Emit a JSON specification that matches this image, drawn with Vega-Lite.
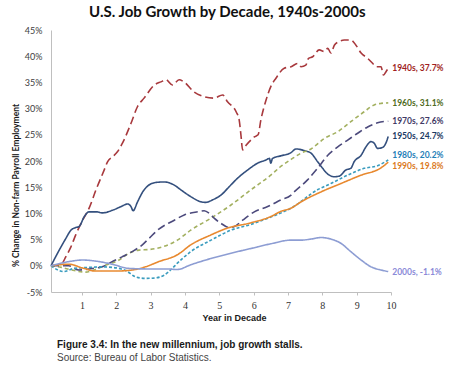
{
  "$schema": "https://vega.github.io/schema/vega-lite/v6.json",
  "background": "white",
  "padding": {"left": 11, "top": 5, "right": 0, "bottom": 0},
  "config": {"view": {"stroke": null}, "font": "Lato", "concat": {"spacing": 0}, "axis": {"labelOverlap": false, "labelFlush": false}},
  "title": {"text": "U.S. Job Growth by Decade, 1940s-2000s", "font": "Lato", "fontSize": 15, "fontWeight": "bold", "color": "#111111", "anchor": "middle", "offset": 6},
  "datasets": {
    "series": [
      {"d":"1940s","t":0.1,"v":0},{"d":"1940s","t":0.4,"v":0.3},{"d":"1940s","t":0.53,"v":1.7},{"d":"1940s","t":0.68,"v":3.6},{"d":"1940s","t":0.82,"v":5.9},{"d":"1940s","t":1.02,"v":8.7},{"d":"1940s","t":1.21,"v":11},{"d":"1940s","t":1.41,"v":14.5},{"d":"1940s","t":1.65,"v":18.3},{"d":"1940s","t":1.75,"v":19.9},{"d":"1940s","t":1.89,"v":20.8},{"d":"1940s","t":2.04,"v":21.8},{"d":"1940s","t":2.18,"v":23.4},{"d":"1940s","t":2.43,"v":27.2},{"d":"1940s","t":2.62,"v":30.4},{"d":"1940s","t":2.81,"v":32},{"d":"1940s","t":3.11,"v":34.5},{"d":"1940s","t":3.3,"v":35.1},{"d":"1940s","t":3.45,"v":35.5},{"d":"1940s","t":3.64,"v":34.5},{"d":"1940s","t":3.83,"v":35.5},{"d":"1940s","t":3.97,"v":35.1},{"d":"1940s","t":4.26,"v":33.2},{"d":"1940s","t":4.55,"v":32.3},{"d":"1940s","t":4.84,"v":32},{"d":"1940s","t":5.1,"v":32.6},{"d":"1940s","t":5.24,"v":31.3},{"d":"1940s","t":5.49,"v":29.4},{"d":"1940s","t":5.58,"v":27.8},{"d":"1940s","t":5.63,"v":25},{"d":"1940s","t":5.68,"v":22.1},{"d":"1940s","t":5.78,"v":23},{"d":"1940s","t":5.92,"v":24},{"d":"1940s","t":6.02,"v":24.6},{"d":"1940s","t":6.13,"v":25},{"d":"1940s","t":6.21,"v":27.8},{"d":"1940s","t":6.36,"v":31.6},{"d":"1940s","t":6.5,"v":34.2},{"d":"1940s","t":6.65,"v":35.8},{"d":"1940s","t":6.89,"v":37.7},{"d":"1940s","t":7.09,"v":38},{"d":"1940s","t":7.28,"v":38.6},{"d":"1940s","t":7.38,"v":38},{"d":"1940s","t":7.52,"v":38.3},{"d":"1940s","t":7.6,"v":39.6},{"d":"1940s","t":7.72,"v":39.9},{"d":"1940s","t":7.91,"v":41.2},{"d":"1940s","t":8.06,"v":40.9},{"d":"1940s","t":8.16,"v":41.5},{"d":"1940s","t":8.25,"v":40.6},{"d":"1940s","t":8.35,"v":42.1},{"d":"1940s","t":8.49,"v":42.8},{"d":"1940s","t":8.64,"v":43.1},{"d":"1940s","t":8.83,"v":43.1},{"d":"1940s","t":8.98,"v":42.1},{"d":"1940s","t":9.13,"v":40.6},{"d":"1940s","t":9.32,"v":39.6},{"d":"1940s","t":9.47,"v":38.6},{"d":"1940s","t":9.56,"v":38},{"d":"1940s","t":9.71,"v":38},{"d":"1940s","t":9.78,"v":36.4},{"d":"1940s","t":9.85,"v":37},{"d":"1940s","t":9.92,"v":37.7},
      {"d":"1950s","t":0.1,"v":0},{"d":"1950s","t":0.34,"v":3},{"d":"1950s","t":0.53,"v":5.2},{"d":"1950s","t":0.68,"v":6.8},{"d":"1950s","t":0.82,"v":7.3},{"d":"1950s","t":0.92,"v":7.5},{"d":"1950s","t":1.07,"v":9.4},{"d":"1950s","t":1.21,"v":10.3},{"d":"1950s","t":1.41,"v":10.3},{"d":"1950s","t":1.6,"v":10.1},{"d":"1950s","t":1.89,"v":10.6},{"d":"1950s","t":2.14,"v":11.3},{"d":"1950s","t":2.33,"v":11.8},{"d":"1950s","t":2.43,"v":11.3},{"d":"1950s","t":2.49,"v":10.5},{"d":"1950s","t":2.62,"v":12.2},{"d":"1950s","t":2.77,"v":14.1},{"d":"1950s","t":2.91,"v":15.2},{"d":"1950s","t":3.15,"v":15.9},{"d":"1950s","t":3.4,"v":16},{"d":"1950s","t":3.69,"v":15.4},{"d":"1950s","t":3.88,"v":14.5},{"d":"1950s","t":4.17,"v":13.2},{"d":"1950s","t":4.47,"v":12.2},{"d":"1950s","t":4.61,"v":12.1},{"d":"1950s","t":4.81,"v":12.6},{"d":"1950s","t":5.05,"v":13.5},{"d":"1950s","t":5.29,"v":15.1},{"d":"1950s","t":5.53,"v":16.7},{"d":"1950s","t":5.83,"v":18.3},{"d":"1950s","t":6.12,"v":19.6},{"d":"1950s","t":6.36,"v":20.2},{"d":"1950s","t":6.46,"v":20.5},{"d":"1950s","t":6.5,"v":19.6},{"d":"1950s","t":6.55,"v":20.5},{"d":"1950s","t":6.8,"v":21},{"d":"1950s","t":7.09,"v":21.6},{"d":"1950s","t":7.23,"v":22.3},{"d":"1950s","t":7.47,"v":22},{"d":"1950s","t":7.67,"v":21.5},{"d":"1950s","t":7.86,"v":19.9},{"d":"1950s","t":8.01,"v":18.6},{"d":"1950s","t":8.16,"v":17.5},{"d":"1950s","t":8.35,"v":17},{"d":"1950s","t":8.49,"v":17.1},{"d":"1950s","t":8.69,"v":18.3},{"d":"1950s","t":8.83,"v":18.6},{"d":"1950s","t":8.93,"v":19.9},{"d":"1950s","t":9.13,"v":21.1},{"d":"1950s","t":9.27,"v":22.7},{"d":"1950s","t":9.42,"v":23.7},{"d":"1950s","t":9.51,"v":23.4},{"d":"1950s","t":9.61,"v":22.4},{"d":"1950s","t":9.76,"v":22.6},{"d":"1950s","t":9.85,"v":23.4},{"d":"1950s","t":9.92,"v":24.7},
      {"d":"1960s","t":0.1,"v":0},{"d":"1960s","t":0.4,"v":-0.3},{"d":"1960s","t":0.7,"v":-0.8},{"d":"1960s","t":1.11,"v":-1.2},{"d":"1960s","t":1.35,"v":-0.8},{"d":"1960s","t":1.64,"v":0},{"d":"1960s","t":2.08,"v":1.1},{"d":"1960s","t":2.37,"v":2.4},{"d":"1960s","t":2.66,"v":3},{"d":"1960s","t":2.95,"v":3.1},{"d":"1960s","t":3.34,"v":3.6},{"d":"1960s","t":3.78,"v":4.9},{"d":"1960s","t":4.17,"v":6.8},{"d":"1960s","t":4.76,"v":9.1},{"d":"1960s","t":5.34,"v":11.6},{"d":"1960s","t":5.92,"v":14.5},{"d":"1960s","t":6.5,"v":17.3},{"d":"1960s","t":6.8,"v":19},{"d":"1960s","t":7.09,"v":20.3},{"d":"1960s","t":7.38,"v":21.5},{"d":"1960s","t":7.67,"v":22.3},{"d":"1960s","t":8.06,"v":24.3},{"d":"1960s","t":8.45,"v":25.6},{"d":"1960s","t":8.83,"v":27.5},{"d":"1960s","t":9.22,"v":29.4},{"d":"1960s","t":9.51,"v":30.7},{"d":"1960s","t":9.71,"v":31},{"d":"1960s","t":9.92,"v":31.1},
      {"d":"1970s","t":0.1,"v":0},{"d":"1970s","t":0.62,"v":0},{"d":"1970s","t":0.91,"v":-0.8},{"d":"1970s","t":1.3,"v":-0.5},{"d":"1970s","t":1.59,"v":-0.2},{"d":"1970s","t":1.88,"v":0.8},{"d":"1970s","t":2.17,"v":1.7},{"d":"1970s","t":2.46,"v":2.7},{"d":"1970s","t":2.76,"v":4},{"d":"1970s","t":2.95,"v":5.2},{"d":"1970s","t":3.24,"v":7},{"d":"1970s","t":3.69,"v":8.7},{"d":"1970s","t":3.98,"v":9.7},{"d":"1970s","t":4.37,"v":10.3},{"d":"1970s","t":4.56,"v":10.5},{"d":"1970s","t":4.71,"v":10},{"d":"1970s","t":4.85,"v":9.1},{"d":"1970s","t":5.05,"v":8.1},{"d":"1970s","t":5.29,"v":7.3},{"d":"1970s","t":5.44,"v":7.5},{"d":"1970s","t":5.68,"v":8.7},{"d":"1970s","t":6.02,"v":10.3},{"d":"1970s","t":6.41,"v":11.3},{"d":"1970s","t":6.8,"v":12.6},{"d":"1970s","t":7.09,"v":13.5},{"d":"1970s","t":7.18,"v":14.1},{"d":"1970s","t":7.57,"v":16.4},{"d":"1970s","t":7.86,"v":18.6},{"d":"1970s","t":8.16,"v":21.1},{"d":"1970s","t":8.45,"v":22.7},{"d":"1970s","t":8.74,"v":24},{"d":"1970s","t":9.03,"v":25.3},{"d":"1970s","t":9.32,"v":26.5},{"d":"1970s","t":9.61,"v":27.3},{"d":"1970s","t":9.92,"v":27.6},
      {"d":"1980s","t":0.1,"v":0},{"d":"1980s","t":0.47,"v":-1.1},{"d":"1980s","t":0.77,"v":-0.5},{"d":"1980s","t":1.2,"v":-0.3},{"d":"1980s","t":1.6,"v":-0.2},{"d":"1980s","t":2.0,"v":-0.4},{"d":"1980s","t":2.3,"v":-1},{"d":"1980s","t":2.56,"v":-2.1},{"d":"1980s","t":2.85,"v":-2.4},{"d":"1980s","t":3.15,"v":-2.3},{"d":"1980s","t":3.39,"v":-1.8},{"d":"1980s","t":3.63,"v":-0.5},{"d":"1980s","t":3.78,"v":0.5},{"d":"1980s","t":4.17,"v":2.7},{"d":"1980s","t":4.76,"v":4.9},{"d":"1980s","t":5.34,"v":6.8},{"d":"1980s","t":5.92,"v":7.9},{"d":"1980s","t":6.5,"v":9.3},{"d":"1980s","t":7.09,"v":11},{"d":"1980s","t":7.86,"v":14.5},{"d":"1980s","t":8.25,"v":15.7},{"d":"1980s","t":8.74,"v":17.3},{"d":"1980s","t":9.22,"v":18.6},{"d":"1980s","t":9.61,"v":19.1},{"d":"1980s","t":9.92,"v":20.2},
      {"d":"1990s","t":0.1,"v":0},{"d":"1990s","t":0.62,"v":0.3},{"d":"1990s","t":1.01,"v":-0.4},{"d":"1990s","t":1.4,"v":-1},{"d":"1990s","t":1.98,"v":-1},{"d":"1990s","t":2.46,"v":-0.8},{"d":"1990s","t":2.85,"v":-0.2},{"d":"1990s","t":3.24,"v":0.8},{"d":"1990s","t":3.78,"v":2.1},{"d":"1990s","t":4.17,"v":4},{"d":"1990s","t":4.76,"v":5.9},{"d":"1990s","t":5.24,"v":7.2},{"d":"1990s","t":5.92,"v":8.2},{"d":"1990s","t":6.5,"v":9.4},{"d":"1990s","t":6.8,"v":10.4},{"d":"1990s","t":7.09,"v":11},{"d":"1990s","t":7.38,"v":12.2},{"d":"1990s","t":7.96,"v":14.1},{"d":"1990s","t":8.54,"v":15.7},{"d":"1990s","t":9.13,"v":17.3},{"d":"1990s","t":9.71,"v":18.7},{"d":"1990s","t":9.92,"v":19.8},
      {"d":"2000s","t":0.1,"v":0},{"d":"2000s","t":0.62,"v":0.8},{"d":"2000s","t":1.01,"v":1.1},{"d":"2000s","t":1.4,"v":0.9},{"d":"2000s","t":1.88,"v":0.3},{"d":"2000s","t":2.37,"v":-0.5},{"d":"2000s","t":2.95,"v":-0.6},{"d":"2000s","t":3.44,"v":-0.6},{"d":"2000s","t":3.78,"v":-0.7},{"d":"2000s","t":4.17,"v":0.2},{"d":"2000s","t":4.76,"v":1.4},{"d":"2000s","t":5.34,"v":2.4},{"d":"2000s","t":5.92,"v":3.3},{"d":"2000s","t":6.5,"v":4.2},{"d":"2000s","t":7.09,"v":4.9},{"d":"2000s","t":7.38,"v":4.9},{"d":"2000s","t":7.67,"v":5.1},{"d":"2000s","t":7.96,"v":5.4},{"d":"2000s","t":8.25,"v":5.1},{"d":"2000s","t":8.54,"v":4.3},{"d":"2000s","t":8.83,"v":2.7},{"d":"2000s","t":9.13,"v":1.1},{"d":"2000s","t":9.42,"v":-0.2},{"d":"2000s","t":9.71,"v":-0.8},{"d":"2000s","t":9.92,"v":-1.1}
    ],
    "ends": [
      {"d":"1940s","t":9.92,"v":37.7,"label":"1940s, 37.7%"},
      {"d":"1950s","t":9.92,"v":24.7,"label":"1950s, 24.7%"},
      {"d":"1960s","t":9.92,"v":31.1,"label":"1960s, 31.1%"},
      {"d":"1970s","t":9.92,"v":27.6,"label":"1970s, 27.6%"},
      {"d":"1980s","t":9.92,"v":20.2,"label":"1980s, 20.2%"},
      {"d":"1990s","t":9.92,"v":19.8,"label":"1990s, 19.8%"},
      {"d":"2000s","t":9.92,"v":-1.1,"label":"2000s, -1.1%"}
    ]
  },
  "vconcat": [
    {
      "width": 340,
      "height": 262,
      "title": {"text": "Figure 3.4: In the new millennium, job growth stalls.", "subtitle": "Source: Bureau of Labor Statistics.", "orient": "bottom", "anchor": "start", "font": "Liberation Sans", "fontSize": 10, "fontWeight": "bold", "color": "#1a1a1a", "subtitleFont": "Liberation Sans", "subtitleFontSize": 10, "subtitleColor": "#444444", "subtitlePadding": 3, "offset": 18, "dx": 46},
      "resolve": {"scale": {"color": "independent"}, "axis": {"x": "independent", "y": "independent"}},
      "layer": [
        {
          "data": {"name": "series"},
          "mark": {"type": "line", "strokeWidth": 1.6, "interpolate": "monotone"},
          "encoding": {
            "x": {"field": "t", "type": "quantitative", "scale": {"domain": [0.1, 10], "nice": false, "zero": false},
                  "axis": {"values": [1,2,3,4,5,6,7,8,9,10], "labelOverlap": false, "labelFlush": false, "grid": false, "title": "Year in Decade", "titleFont": "Liberation Sans", "titleFontSize": 9, "titleFontWeight": "bold", "titleColor": "#1a1a1a", "titlePadding": 3, "titleX": 183,
                           "labelFont": "Liberation Serif", "labelFontSize": 10, "labelColor": "#333333", "labelPadding": 5, "tickSize": 3, "tickColor": "#BFBFBF", "domainColor": "#BFBFBF"}},
            "y": {"field": "v", "type": "quantitative", "scale": {"domain": [-5, 45], "nice": false},
                  "axis": {"values": [-5,0,5,10,15,20,25,30,35,40,45], "labelOverlap": false, "labelFlush": false, "labelExpr": "datum.value + '%'", "grid": false, "ticks": false, "domainColor": "#BFBFBF", "labelFont": "Lato", "labelFontSize": 9, "labelColor": "#404040", "labelPadding": 9,
                           "title": "% Change in Non-farm Payroll Employment", "titleFont": "Lato", "titleFontSize": 8.5, "titleFontWeight": "bold", "titleColor": "#1a1a1a", "titleY": 155, "titleX": -31}},
            "color": {"field": "d", "type": "nominal", "legend": null,
                      "scale": {"domain": ["1940s","1950s","1960s","1970s","1980s","1990s","2000s"], "range": ["#A8393D","#34507E","#A3B060","#4C4A7C","#3A9CBE","#E8892F","#8D9DD3"]}},
            "strokeDash": {"field": "d", "type": "nominal", "legend": null,
                      "scale": {"domain": ["1940s","1950s","1960s","1970s","1980s","1990s","2000s"], "range": [[8,4],[1,0],[4,3],[8,4],[3,2],[1,0],[1,0]]}}
          }
        },
        {
          "data": {"name": "ends"},
          "transform": [{"filter": "datum.d != '1980s' && datum.d != '1990s'"}],
          "mark": {"type": "text", "align": "left", "baseline": "middle", "dx": 4, "font": "Lato", "fontSize": 8.5, "fontWeight": "bold"},
          "encoding": {
            "x": {"field": "t", "type": "quantitative", "axis": null},
            "y": {"field": "v", "type": "quantitative", "axis": null},
            "text": {"field": "label"},
            "color": {"field": "d", "type": "nominal", "legend": null,
                      "scale": {"domain": ["1940s","1950s","1960s","1970s","1980s","1990s","2000s"], "range": ["#A01E22","#1B3A63","#4F6B22","#423A66","#1F80B8","#DB7A1E","#8A8AD8"]}}
          }
        },
        {
          "data": {"name": "ends"},
          "transform": [{"filter": "datum.d == '1980s'"}],
          "mark": {"type": "text", "align": "left", "baseline": "middle", "dx": 4, "dy": -5, "font": "Lato", "fontSize": 8.5, "fontWeight": "bold", "color": "#1F80B8"},
          "encoding": {
            "x": {"field": "t", "type": "quantitative", "axis": null},
            "y": {"field": "v", "type": "quantitative", "axis": null},
            "text": {"field": "label"}
          }
        },
        {
          "data": {"name": "ends"},
          "transform": [{"filter": "datum.d == '1990s'"}],
          "mark": {"type": "text", "align": "left", "baseline": "middle", "dx": 4, "dy": 4, "font": "Lato", "fontSize": 8.5, "fontWeight": "bold", "color": "#DB7A1E"},
          "encoding": {
            "x": {"field": "t", "type": "quantitative", "axis": null},
            "y": {"field": "v", "type": "quantitative", "axis": null},
            "text": {"field": "label"}
          }
        }
      ]
    }
  ]
}
